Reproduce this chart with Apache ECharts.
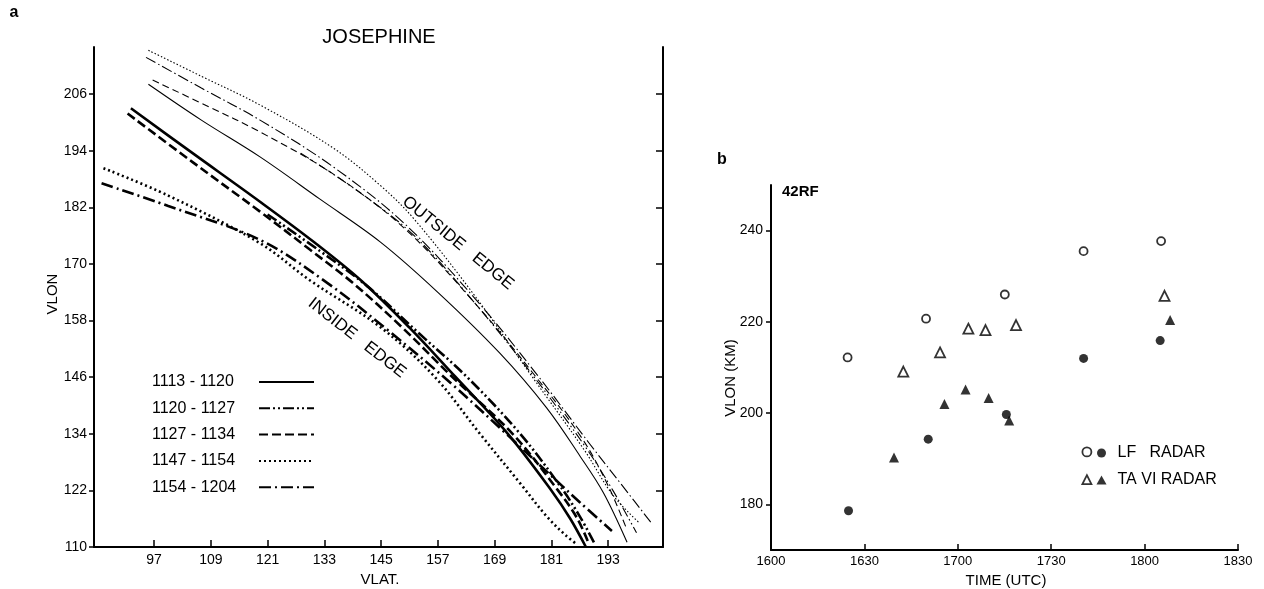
<!DOCTYPE html>
<html><head><meta charset="utf-8">
<script src="https://cdn.jsdelivr.net/npm/echarts@6/dist/echarts.min.js"></script>
<style>html,body{margin:0;padding:0;background:#fff}#c{width:1264px;height:589px}</style>
</head><body><div id="c"></div>
<script>
// ---------- Panel a : JOSEPHINE (VLAT vs VLON) ----------
const vlatTicks = [97,109,121,133,145,157,169,181,193];
const vlonTicks = [110,122,134,146,158,170,182,194,206];
const vlonRightTicks = [122,134,146,158,170,182,194,206];
const periodNames = ['1113 - 1120','1120 - 1127','1127 - 1134','1147 - 1154','1154 - 1204'];

// inside edge (heavy lines) [VLAT, VLON]
const inside1113 = [[92.1,203],[105,193.6],[119.4,183.2],[131,174.5],[141,166.3],[151,156.5],[160.6,146.2],[171.8,134],[181,122],[185,116],[188.3,110]];
const inside1120 = [[121,180.5],[132,172.8],[142.2,165.2],[153,155.3],[163.2,146],[174.4,134],[182.8,123],[187,116.5],[190,111]];
const inside1127 = [[91.4,201.9],[105,191.7],[119.4,181.1],[130,173],[139,166],[149.5,156.5],[159.8,146.3],[172.8,134],[182.4,122],[186.5,116],[189,110.5]];
const inside1147 = [[86.3,190.3],[100,184.5],[119.4,174.4],[130,166.5],[145,156.5],[156.4,146],[165.9,134],[174.4,123.5],[180,116.5],[184,112.5],[186.5,110.5]];
const inside1154 = [[85.9,187.1],[100,182.3],[119.4,175.1],[133.6,166],[147,155.5],[160,144.5],[172,133.5],[180,126],[187,119.5],[193.8,113.4]];

// outside edge (light lines) [VLAT, VLON]
const outside1113 = [[95.8,208.1],[107,200.5],[119.4,192.7],[132,183.8],[144.8,174.7],[157,164],[170.1,151.1],[180,139.5],[187.1,129.2],[192,121.5],[197,111]];
const outside1120 = [[128,193.5],[140,185.5],[152,176],[165,161.5],[177,146.5],[188,131.5],[194,122],[199,113]];
const outside1127 = [[96.7,209],[108,203.6],[119.4,198],[135,189],[150,177.5],[165,161.5],[177,147],[187.5,133],[193,123],[197,113.6]];
const outside1147 = [[95.8,215.3],[107,209.8],[119.4,203.7],[135,194.5],[145,186.5],[152,179.5],[165,163],[177,146],[188,130.5],[194,121],[199.7,115]];
const outside1154 = [[95.3,213.8],[107,207.3],[119.4,200.5],[135,190.5],[150,178.5],[165,162.5],[178,146.5],[189,132],[196,123],[202.2,115]];

// ---------- Panel b : 42RF (time vs VLON) ----------
// time given as minutes after 1600 UTC
const timeTickValues = [0,30,60,90,120,150];
const timeTickLabels = ['1600','1630','1700','1730','1800','1830'];
const kmTicks = [180,200,220,240];
const lfOpen = [[24.6,212.2],[49.8,220.7],[75.1,226.0],[100.4,235.5],[125.3,237.7]];
const lfFilled = [[24.9,178.6],[50.5,194.3],[75.6,199.7],[100.4,212.0],[125.0,215.9]];
const taviOpen = [[42.5,209.1],[54.3,213.3],[63.4,218.5],[68.9,218.2],[78.7,219.3],[126.4,225.7]];
const taviFilled = [[39.5,190.3],[55.7,202.0],[62.5,205.2],[69.9,203.3],[76.5,198.4],[128.2,220.4]];

const FONT = "'Liberation Sans', Arial, sans-serif";
const INK = '#000';

const insideData = [inside1113, inside1120, inside1127, inside1147, inside1154];
const outsideData = [outside1113, outside1120, outside1127, outside1147, outside1154];
const thickDash = ['solid', [11,3,2,3,2,3], [9,4], [2,3], [12,4,2,4]];
const thinDash = ['solid', [10,3,1.5,3,1.5,3], [7,4], [1.5,2], [11,3,1.5,3]];

const series = [];
insideData.forEach((d, i) => series.push({
  name: periodNames[i], type: 'line', xAxisIndex: 0, yAxisIndex: 0, data: d,
  smooth: 0.35, symbol: 'none', showSymbol: false, itemStyle: { color: INK },
  lineStyle: { color: INK, width: 2.6, type: thickDash[i] }
}));
outsideData.forEach((d, i) => series.push({
  name: periodNames[i], type: 'line', xAxisIndex: 0, yAxisIndex: 0, data: d,
  smooth: 0.35, symbol: 'none', showSymbol: false, itemStyle: { color: INK },
  lineStyle: { color: INK, width: 1.1, type: thinDash[i] }
}));
const openStyle = { color: '#fff', borderColor: INK, borderWidth: 1.8 };
const fillStyle = { color: INK };
series.push(
  { name: 'LF RADAR open', type: 'scatter', xAxisIndex: 1, yAxisIndex: 2, data: lfOpen, symbol: 'circle', symbolSize: 8, itemStyle: openStyle },
  { name: 'LF RADAR', type: 'scatter', xAxisIndex: 1, yAxisIndex: 2, data: lfFilled, symbol: 'circle', symbolSize: 9, itemStyle: fillStyle },
  { name: 'TA VI RADAR open', type: 'scatter', xAxisIndex: 1, yAxisIndex: 2, data: taviOpen, symbol: 'triangle', symbolSize: 10, itemStyle: openStyle },
  { name: 'TA VI RADAR', type: 'scatter', xAxisIndex: 1, yAxisIndex: 2, data: taviFilled, symbol: 'triangle', symbolSize: 10, itemStyle: fillStyle }
);

const axisLineStyle = { lineStyle: { color: INK, width: 2 } };
const labelStyle = { color: INK, fontFamily: FONT, fontSize: 14 };

const option = {
  animation: false,
  backgroundColor: '#fff',
  grid: [
    { left: 94, right: 601, top: 47, bottom: 42 },
    { left: 771, right: 26, top: 185, bottom: 39 }
  ],
  xAxis: [
    { type: 'value', gridIndex: 0, min: 84.3, max: 204.6, axisLine: { onZero: false, ...axisLineStyle },
      axisTick: { inside: true, length: 7, customValues: vlatTicks, lineStyle: { color: INK, width: 1.5 } },
      axisLabel: { customValues: vlatTicks, margin: 6, ...labelStyle },
      splitLine: { show: false } },
    { type: 'value', gridIndex: 1, min: 0, max: 150, axisLine: { onZero: false, ...axisLineStyle },
      axisTick: { inside: true, length: 6, customValues: timeTickValues, lineStyle: { color: INK, width: 1.5 } },
      axisLabel: { customValues: timeTickValues, margin: 5, ...labelStyle, fontSize: 13,
        formatter: v => timeTickLabels[timeTickValues.indexOf(v)] },
      splitLine: { show: false } }
  ],
  yAxis: [
    { type: 'value', gridIndex: 0, min: 110, max: 216, axisLine: { onZero: false, ...axisLineStyle },
      axisTick: { length: 5, customValues: vlonTicks, lineStyle: { color: INK, width: 1.5 } },
      axisLabel: { customValues: vlonTicks, margin: 7, ...labelStyle },
      splitLine: { show: false } },
    { type: 'value', gridIndex: 0, position: 'right', min: 110, max: 216, axisLine: { show: true, onZero: false, ...axisLineStyle },
      axisTick: { show: true, inside: true, length: 7, customValues: vlonRightTicks, lineStyle: { color: INK, width: 1.5 } },
      axisLabel: { show: false }, splitLine: { show: false } },
    { type: 'value', gridIndex: 1, min: 170, max: 250, axisLine: { onZero: false, ...axisLineStyle },
      axisTick: { length: 5, customValues: kmTicks, lineStyle: { color: INK, width: 1.5 } },
      axisLabel: { customValues: kmTicks, margin: 8, ...labelStyle },
      splitLine: { show: false } }
  ],
  legend: [
    { data: periodNames, orient: 'vertical', left: 152, top: 374, align: 'right', selectedMode: false,
      padding: 0, itemWidth: 55, itemHeight: 16, itemGap: 10.3,
      itemStyle: { opacity: 0 },
      formatter: n => `{t|${n}}`,
      textStyle: { color: INK, fontFamily: FONT, fontSize: 16,
        rich: { t: { width: 102, align: 'left', fontSize: 16, fontFamily: FONT, color: INK, lineHeight: 16 } } } },
    { data: ['LF RADAR open', 'TA VI RADAR open'], orient: 'vertical', left: 1081.5, top: 446.5, selectedMode: false,
      padding: 0, itemWidth: 9, itemHeight: 9, itemGap: 17, formatter: () => '',
      itemStyle: { color: '#fff', borderColor: INK, borderWidth: 1.8 },
      textStyle: { fontSize: 16, lineHeight: 18 } },
    { data: ['LF RADAR', 'TA VI RADAR'], orient: 'vertical', left: 1096.5, top: 444, selectedMode: false,
      padding: 0, itemWidth: 10, itemHeight: 9, itemGap: 9,
      itemStyle: { color: INK },
      formatter: n => n === 'LF RADAR' ? 'LF\u00a0\u00a0\u00a0RADAR' : n,
      textStyle: { color: INK, fontFamily: FONT, fontSize: 16, lineHeight: 18, padding: [0,0,0,6] } }
  ],
  graphic: [
    { type: 'text', x: 14, y: 13, style: { text: 'a', font: `bold 16px ${FONT}`, fill: INK, align: 'center', verticalAlign: 'middle' } },
    { type: 'text', x: 379, y: 37, style: { text: 'JOSEPHINE', font: `20px ${FONT}`, fill: INK, align: 'center', verticalAlign: 'middle' } },
    { type: 'text', x: 458, y: 243, rotation: -39 * Math.PI / 180, style: { text: 'OUTSIDE\u00a0\u00a0\u00a0EDGE', font: `17px ${FONT}`, fill: INK, align: 'center', verticalAlign: 'middle' } },
    { type: 'text', x: 357, y: 338, rotation: -38 * Math.PI / 180, style: { text: 'INSIDE\u00a0\u00a0\u00a0EDGE', font: `17px ${FONT}`, fill: INK, align: 'center', verticalAlign: 'middle' } },
    { type: 'text', x: 53, y: 294, rotation: Math.PI / 2, style: { text: 'VLON', font: `15px ${FONT}`, fill: INK, align: 'center', verticalAlign: 'middle' } },
    { type: 'text', x: 380, y: 580, style: { text: 'VLAT.', font: `15px ${FONT}`, fill: INK, align: 'center', verticalAlign: 'middle' } },
    { type: 'text', x: 722, y: 160, style: { text: 'b', font: `bold 16px ${FONT}`, fill: INK, align: 'center', verticalAlign: 'middle' } },
    { type: 'text', x: 782, y: 192, style: { text: '42RF', font: `bold 15px ${FONT}`, fill: INK, align: 'left', verticalAlign: 'middle' } },
    { type: 'text', x: 731, y: 378, rotation: Math.PI / 2, style: { text: 'VLON (KM)', font: `15px ${FONT}`, fill: INK, align: 'center', verticalAlign: 'middle' } },
    { type: 'text', x: 1006, y: 581, style: { text: 'TIME (UTC)', font: `15px ${FONT}`, fill: INK, align: 'center', verticalAlign: 'middle' } }
  ],
  series
};
const chart = echarts.init(document.getElementById('c'), null, { renderer: 'canvas' });
chart.setOption(option);
</script></body></html>
